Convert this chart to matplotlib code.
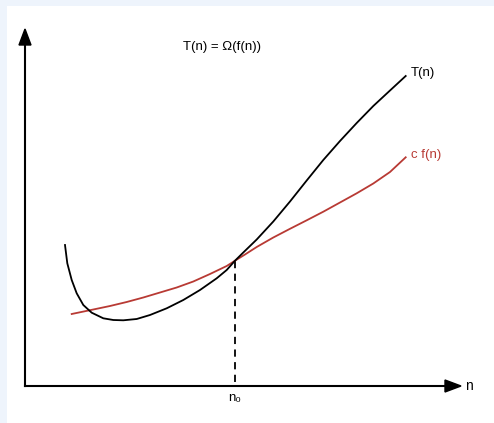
import matplotlib
matplotlib.use("Agg")
import matplotlib.pyplot as plt
from matplotlib.patches import Rectangle

plt.rcParams["font.family"] = ["Liberation Sans", "DejaVu Sans"]

# ── data (pixel space: x right, y down) ──
t_x = [65, 67.3, 71.7, 76.7, 83.3, 91.7, 103.3, 113.3, 123.3, 136.7, 150,
       166.7, 183.3, 200, 216.7, 226.7, 235, 243.3, 256.7, 273.3, 290,
       306.7, 323.3, 340, 356.7, 373.3, 390, 405.7]
t_y = [245, 263.3, 280, 293.3, 305, 312.7, 318.3, 320, 320.3, 319, 315,
       308.3, 300, 290, 278.3, 270, 260.7, 252.5, 239.5, 221.5, 201.5,
       180.5, 160, 141, 123, 106, 90.5, 76]
cf_x = [71.7, 93.3, 110, 126.7, 143.3, 160, 176.7, 193.3, 210, 226.7, 235,
        245, 256.7, 273.3, 290, 306.7, 323.3, 340, 356.7, 373.3, 390, 405.7]
cf_y = [314, 309.5, 306, 302, 297.5, 292.5, 287.5, 281.5, 274, 266, 260.7,
        254.5, 247, 237.5, 228.8, 220.3, 211.7, 202.5, 193.3, 183.5,
        172, 157.3]
n0 = 235
n0_y = 261

W, H = 494, 423
RED = "#b83a34"

fig = plt.figure(figsize=(W / 100, H / 100), dpi=100, facecolor="#eef4fc")
ax = fig.add_axes([0, 0, 1, 1])
ax.set_xlim(0, W)
ax.set_ylim(H, 0)
ax.axis("off")
ax.add_patch(Rectangle((7, 6), W, H, facecolor="white", edgecolor="none",
                       zorder=0))

# axes with arrow heads
ax.plot([25, 25], [386, 42], color="black", lw=1.5, zorder=2)
ax.plot([25, 447], [386, 386], color="black", lw=1.5, zorder=2)
ax.fill([25, 19, 31], [29, 45, 45], color="black", zorder=3)
ax.fill([461, 445, 445], [386, 380, 392], color="black", zorder=3)

# curves
ax.plot(t_x, t_y, color="black", lw=1.3, zorder=4, solid_joinstyle="round")
ax.plot(cf_x, cf_y, color=RED, lw=1.3, zorder=3, solid_joinstyle="round")
ax.plot([n0, n0], [n0_y, 386], color="black", lw=1.3, ls=(0, (4, 3)),
        zorder=2)

# text
ax.text(222, 47, "T(n) = Ω(f(n))", ha="center", va="center", fontsize=9.5)
ax.text(411, 73, "T(n)", ha="left", va="center", fontsize=9.5)
ax.text(411, 155, "c f(n)", ha="left", va="center", fontsize=9.5,
        color=RED)
ax.text(465, 386, "n", ha="left", va="center", fontsize=10)
ax.text(n0, 398, "n₀", ha="center", va="center", fontsize=9.5)

fig.savefig("out.png", dpi=100, facecolor=fig.get_facecolor())
